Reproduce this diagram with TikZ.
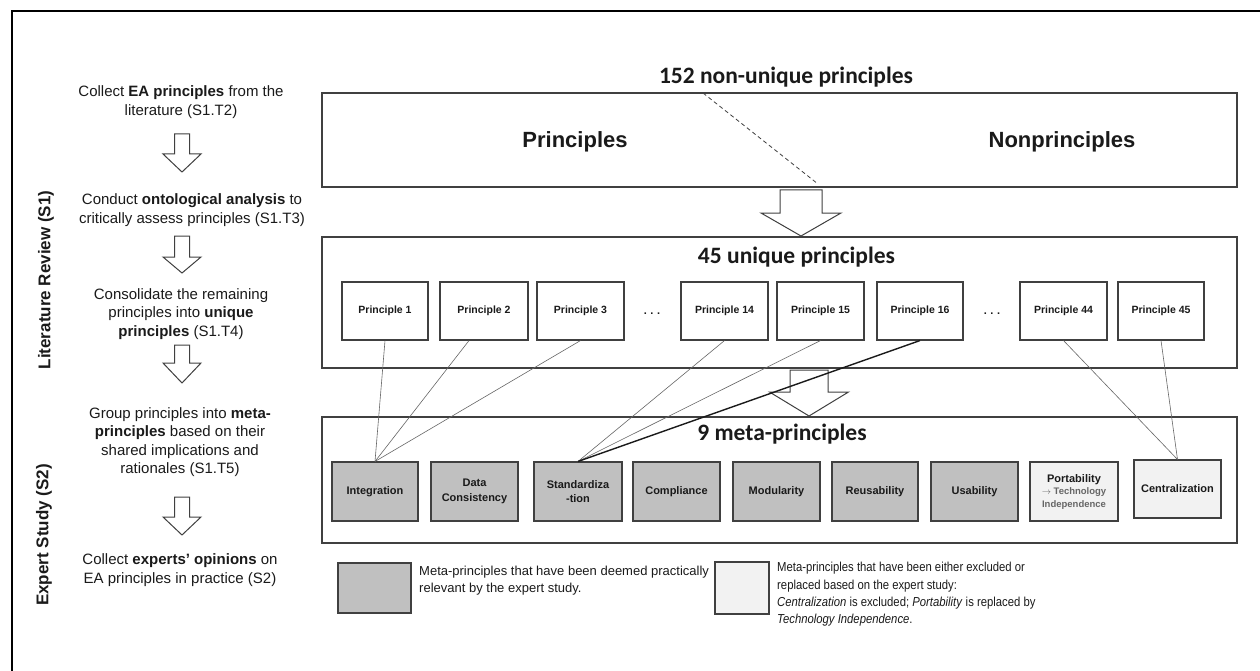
\documentclass[tikz,border=0pt]{standalone}
\usepackage{fontspec}
\setmainfont{Liberation Sans}
\newfontfamily\titlefont{Carlito}
\newfontfamily\narrowfont[FakeStretch=0.87]{Liberation Sans}
\definecolor{metadark}{HTML}{C0C0C0}
\definecolor{metalight}{HTML}{F2F2F2}
\definecolor{ink}{HTML}{1A1A1A}
\definecolor{edge}{HTML}{404040}
% draws an outlined block arrow pointing down:
% centre x, shaft top, shoulder, tip, shaft half-width, head half-width
\newcommand\blockarrow[6]{%
  \draw[hollow] (#1-#5,#2) -- (#1+#5,#2) -- (#1+#5,#3) -- (#1+#6,#3)
    -- (#1,#4) -- (#1-#6,#3) -- (#1-#5,#3) -- cycle;}
\begin{document}
\begin{tikzpicture}[x=1pt,y=-1pt,
  text=ink,
  hollow/.style={draw=edge, line width=1pt, fill=white, line join=miter},
  groupbox/.style={draw=edge, line width=1.1pt, fill=white, inner sep=0pt},
  pbox/.style={draw=edge, line width=1.1pt, fill=white, inner sep=0pt,
    minimum width=87pt, minimum height=58pt,
    font=\fontsize{10.5}{12}\selectfont\bfseries},
  mbox/.style={draw=edge, line width=1.1pt, fill=metadark, inner sep=0pt,
    minimum width=87pt, minimum height=59pt, align=center,
    font=\fontsize{11}{14.5}\selectfont\bfseries},
  mlight/.style={mbox, fill=metalight},
  title/.style={font=\titlefont\fontsize{23.5}{26}\selectfont\bfseries, anchor=base, inner sep=0pt},
  bigword/.style={font=\fontsize{22}{24}\selectfont\bfseries, anchor=base, inner sep=0pt},
  step text/.style={align=center, font=\fontsize{15}{18.3}\selectfont, inner sep=0pt},
  phase/.style={rotate=90, font=\fontsize{17}{20}\selectfont\bfseries, inner sep=0pt},
  legendtext/.style={align=left, anchor=west, inner sep=0pt,
    font=\fontsize{13}{16.5}\selectfont},
  legendnarrow/.style={legendtext, font=\narrowfont\fontsize{13}{17.3}\selectfont},
  link/.style={draw=black!60, line width=0.6pt},
  strong link/.style={draw=ink, line width=1.4pt},
  dots/.style={font=\fontsize{11}{12}\selectfont\bfseries, anchor=base, inner sep=0pt}
]
\useasboundingbox (0,0) rectangle (1260,671);

% outer frame (open to the right and bottom)
\draw[line width=2.2pt, black] (12,671) -- (12,11) -- (1260,11);

% ---------------- left column: process steps ----------------
\node[phase] (s1) at (46,280) {Literature Review (S1)};
\node[phase] (s2) at (44,535) {Expert Study (S2)};

\node[step text] (t1) at (181,102) {Collect \textbf{EA principles} from the\\literature (S1.T2)};
\blockarrow{182}{134}{154}{172}{7.5}{19}
\node[step text] (t2) at (192,210) {Conduct \textbf{ontological analysis} to\\critically assess principles (S1.T3)};
\blockarrow{182}{236}{257}{273}{7.5}{19}
\node[step text] (t3) at (181,314) {Consolidate the remaining\\principles into \textbf{unique}\\\textbf{principles} (S1.T4)};
\blockarrow{182}{345}{363}{383}{7.5}{19}
\node[step text] (t4) at (180,442) {Group principles into \textbf{meta-}\\\textbf{principles} based on their\\shared implications and\\rationales (S1.T5)};
\blockarrow{182}{497}{517}{535}{7.5}{19}
\node[step text] (t5) at (180,570) {Collect \textbf{experts' opinions} on\\EA principles in practice (S2)};

% ---------------- 152 non-unique principles ----------------
\node[groupbox, minimum width=915pt, minimum height=94pt] (all) at (779.5,140) {};
\node[title] (alltitle) at (786,84) {152 non-unique principles};
\node[bigword] (pr) at (575,148) {Principles};
\node[bigword] (npr) at (1062,148) {Nonprinciples};
\coordinate (cutA) at (703,93);
\coordinate (cutB) at (818,184);
\draw[dashed, dash pattern=on 4pt off 3pt, line width=0.8pt, edge] (cutA) -- (cutB);

\blockarrow{801}{190}{213}{236}{21}{40}

% ---------------- 45 unique principles ----------------
\node[groupbox, minimum width=915pt, minimum height=131pt] (uniq) at (779.5,302.5) {};
\node[title] (uniqtitle) at (796.5,263) {45 unique principles};

\blockarrow{809}{370}{392}{416}{19}{39.5}

\node[pbox, minimum width=86pt] (p1) at (385,311) {Principle 1};
\node[pbox, minimum width=88pt] (p2) at (484,311) {Principle 2};
\node[pbox] (p3) at (580.5,311) {Principle 3};
\node[dots] (d1) at (652,314) {.\,\,.\,\,.};
\node[pbox] (p14) at (724.5,311) {Principle 14};
\node[pbox] (p15) at (820.5,311) {Principle 15};
\node[pbox, minimum width=86pt] (p16) at (920,311) {Principle 16};
\node[dots] (d2) at (992,314) {.\,\,.\,\,.};
\node[pbox] (p44) at (1063.5,311) {Principle 44};
\node[pbox, minimum width=86pt] (p45) at (1161,311) {Principle 45};

% ---------------- 9 meta-principles ----------------
\node[groupbox, minimum width=915pt, minimum height=126pt] (meta) at (779.5,480) {};
\node[title] (metatitle) at (782,440) {9 meta-principles};

\node[mbox, minimum width=86pt] (m1) at (375,491.5) {Integration};
\node[mbox] (m2) at (474.5,491.5) {Data\\Consistency};
\node[mbox, minimum width=88pt] (m3) at (578,491.5) {Standardiza\\-tion};
\node[mbox] (m4) at (676.5,491.5) {Compliance};
\node[mbox] (m5) at (776.5,491.5) {Modularity};
\node[mbox, minimum width=86pt] (m6) at (875,491.5) {Reusability};
\node[mbox] (m7) at (974.5,491.5) {Usability};
\node[mlight, minimum width=88pt, font=\fontsize{11}{12.5}\selectfont\bfseries] (m8) at (1074,491.5)
  {Portability\\{\fontsize{9.5}{12.5}\selectfont\color{black!60}$\rightarrow$ Technology}\\{\fontsize{9.5}{12.5}\selectfont\color{black!60}Independence}};
\node[mlight, minimum height=58pt] (m9) at (1177.5,489) {Centralization};

% ---------------- assignments of principles to meta-principles ----------------
\draw[link] (p1.south) -- (m1.north);
\draw[link] ([xshift=-15pt]p2.south) -- (m1.north);
\draw[link] (p3.south) -- (m1.north);
\draw[link] (p14.south) -- (m3.north);
\draw[link] (p15.south) -- (m3.north);
\draw[strong link] (p16.south) -- (m3.north);
\draw[link] (p44.south) -- (m9.north);
\draw[link] (p45.south) -- (m9.north);

% ---------------- legend ----------------
\node[draw=edge, line width=1.1pt, fill=metadark, minimum width=73pt, minimum height=50pt, inner sep=0pt] (keydark) at (374.5,588) {};
\node[legendtext] (keydarktext) at (419,580.5) {Meta-principles that have been deemed practically\\relevant by the expert study.};
\node[draw=edge, line width=1.1pt, fill=metalight, minimum width=54pt, minimum height=52pt, inner sep=0pt] (keylight) at (742,588) {};
\node[legendnarrow] (keylighttext) at (777,594.5) {Meta-principles that have been either excluded or\\replaced based on the expert study:\\\textit{Centralization} is excluded; \textit{Portability} is replaced by\\\textit{Technology Independence}.};
\end{tikzpicture}
\end{document}
